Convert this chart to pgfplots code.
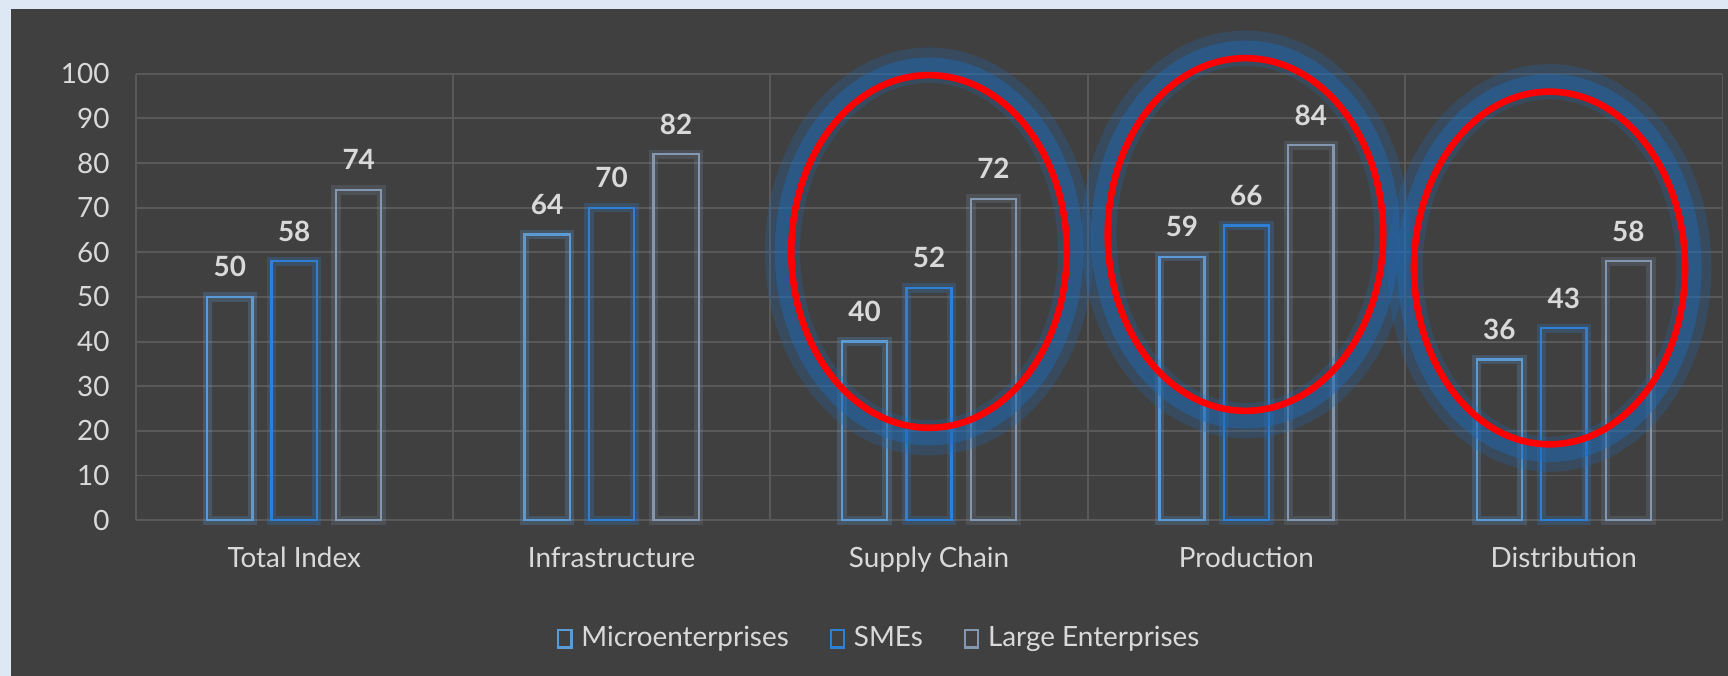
\documentclass[border=0pt]{standalone}
\usepackage{pgfplots}
\usepackage{pgfplotstable}
\pgfplotsset{compat=1.18}
\usepackage{fontspec}
\setmainfont{Lato}

\definecolor{outerbg}{HTML}{DEE8F4}
\definecolor{panel}{HTML}{404040}
\definecolor{gridc}{HTML}{595959}
\definecolor{txt}{HTML}{D9D9D9}
\definecolor{micro}{HTML}{5B9BD5}
\definecolor{sme}{HTML}{2E7FD6}
\definecolor{large}{HTML}{8497B0}
\definecolor{glow}{HTML}{1F6BB8}

\pgfplotstableread{
x micro sme large
0 50 58 74
1 64 70 82
2 40 52 72
3 59 66 84
4 36 43 58
}\data

% highlight ring: center x, center y, x radius (mm)
\newcommand{\ring}[3]{%
  \draw[glow, line width=3.2mm, opacity=0.25] (axis cs:#1,#2) ellipse [x radius=#3mm+0.8mm, y radius=16.9mm];
  \draw[glow, line width=1.8mm, opacity=0.45] (axis cs:#1,#2) ellipse [x radius=#3mm+0.6mm, y radius=16.7mm];
  \draw[red, line width=1.7pt] (axis cs:#1,#2) ellipse [x radius=#3mm, y radius=16mm];
}

\begin{document}
\begin{tikzpicture}
\useasboundingbox (0,0) rectangle (156.8mm,61.3mm);
\fill[outerbg] (0,0) rectangle (156.8mm,61.3mm);
\fill[panel] (1.0mm,0) rectangle (156.8mm,60.5mm);
\begin{axis}[
    at={(12.3mm,14.1mm)}, anchor=south west,
    scale only axis, width=144mm, height=40.5mm,
    ybar, bar width=4.1mm,
    xmin=-0.5, xmax=4.5, ymin=0, ymax=100,
    ytick={0,10,...,100},
    xtick={0,...,4},
    xticklabels={Total Index,Infrastructure,Supply Chain,Production,Distribution},
    minor xtick={-0.5,0.5,...,4.5},
    xminorgrids=true, ymajorgrids=true,
    grid style={gridc, line width=0.5pt},
    minor grid style={gridc, line width=0.5pt},
    major tick length=0pt, minor tick length=0pt,
    axis line style={draw=none},
    font=\fontsize{7.2}{8.5}\selectfont,
    tick label style={text=txt},
    yticklabel style={inner sep=0pt, xshift=-2.3mm},
    xticklabel style={inner sep=0pt, anchor=north, yshift=-2.4mm},
    /pgf/number format/assume math mode=true,
    nodes near coords,
    nodes near coords style={text=txt, font=\fontsize{7.2}{8.5}\selectfont\bfseries, anchor=south, inner sep=0pt, yshift=1.7mm},
    clip=false,
    legend style={at={(0.468,-0.267)}, anchor=center, draw=none, fill=none,
        text=txt, legend columns=3, inner sep=0pt,
        nodes={inner sep=0pt},
        /tikz/every odd column/.append style={column sep=0.8mm},
        /tikz/every even column/.append style={column sep=3.7mm}},
    legend image code/.code={\draw[#1, fill=none, line width=0.6pt] (0mm,-0.75mm) rectangle (1.2mm,0.85mm);},
]
% glow underneath the bars
\addplot[draw=micro, fill=none, line width=2.4pt, opacity=0.25, bar shift=-5.85mm, forget plot, nodes near coords={}] table[x=x,y=micro]{\data};
\addplot[draw=sme, fill=none, line width=2.4pt, opacity=0.25, bar shift=0mm, forget plot, nodes near coords={}] table[x=x,y=sme]{\data};
\addplot[draw=large, fill=none, line width=2.4pt, opacity=0.2, bar shift=5.85mm, forget plot, nodes near coords={}] table[x=x,y=large]{\data};
% bars
\addplot[draw=micro, fill=none, line width=0.6pt, bar shift=-5.85mm] table[x=x,y=micro]{\data};
\addplot[draw=sme, fill=none, line width=0.6pt, bar shift=0mm] table[x=x,y=sme]{\data};
\addplot[draw=large, fill=none, line width=0.6pt, bar shift=5.85mm] table[x=x,y=large]{\data};
\legend{Microenterprises,SMEs,Large Enterprises}
\ring{2}{60.2}{12.5}
\ring{2.997}{64}{12.5}
\ring{3.955}{56.5}{12.3}
\end{axis}
\end{tikzpicture}
\end{document}
